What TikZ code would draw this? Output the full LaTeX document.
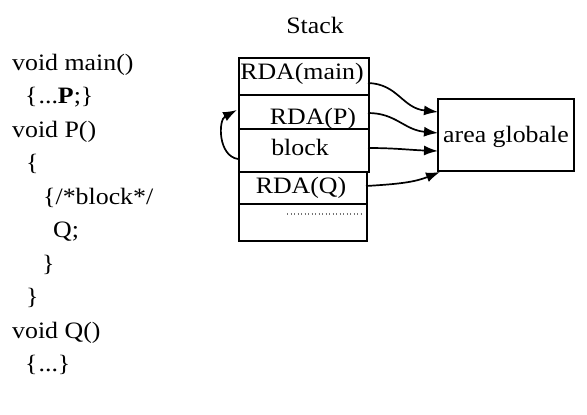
\documentclass[tikz,border=0pt]{standalone}
\usepackage{fontspec}
\setmainfont[FakeStretch=1.1]{Liberation Serif}
\usetikzlibrary{arrows.meta}
\begin{document}
\begin{tikzpicture}[x=1pt,y=-1pt,
  every node/.style={inner sep=0pt, font=\fontsize{23.5}{28}\selectfont},
  code/.style={anchor=base west},
  lbl/.style={anchor=base},
  cell/.style={draw, line width=1.7pt, rectangle, anchor=north west},
  arr/.style={-{Latex[length=14pt,width=10pt]}, line width=1.7pt}]
\useasboundingbox (0,0) rectangle (587,415);

% code listing
\node[code] (l1) at (12,70) {void main()};
\node[code] (l2) at (25,103.5) {\{\kern1pt...\textbf{P};\}};
\node[code] (l3) at (12,137) {void P()};
\node[code] (l4) at (26,170.5) {\{};
\node[code] (l5) at (43,204) {\{/*block*/};
\node[code] (l6) at (53,237.5) {Q;};
\node[code] (l7) at (42,271) {\}};
\node[code] (l8) at (26,304.5) {\}};
\node[code] (l9) at (12,338) {void Q()};
\node[code] (l10) at (25,371.5) {\{\kern1pt...\}};

% stack
\node[lbl] (stack) at (315,33) {Stack};
\node[cell, minimum width=130pt, minimum height=37pt] (cmain) at (238,57) {};
\node[cell, minimum width=130pt, minimum height=77pt] (cp) at (238,94) {};
\draw[line width=1.7pt] (238,129) -- (368,129);
\node[cell, minimum width=128pt, minimum height=69pt] (cq) at (238,171) {};
\draw[line width=1.7pt] (238,204) -- (366,204);
\draw[black!55, line width=1.3pt, dash pattern=on 1.3pt off 2.2pt] (287,214) -- (362,214);

\node[lbl] (tmain) at (302,79) {RDA(main)};
\node[lbl] (tp) at (313,124) {RDA(P)};
\node[lbl] (tblock) at (300,155) {block};
\node[lbl] (tq) at (301,193) {RDA(Q)};

% area globale
\node[draw, line width=1.7pt, minimum width=136pt, minimum height=72pt] (ag) at (506,135) {};
\node[lbl] (tag) at (506,142) {area globale};

% connectors
\coordinate (s1) at (368,83);
\coordinate (s2) at (368,113);
\coordinate (s3) at (368,148);
\coordinate (s4) at (366,186);
\coordinate (e1) at (438,112);
\coordinate (e2) at (438,133);
\coordinate (e3) at (438,151);
\coordinate (e4) at (440,172);
\draw[arr] (s1) .. controls (398,84) and (402,108) .. (e1);
\draw[arr] (s2) .. controls (396,113) and (404,130) .. (e2);
\draw[arr] (s3) .. controls (395,148) and (410,150) .. (e3);
\draw[arr] (s4) .. controls (400,184) and (415,182) .. (e4);

\coordinate (b1) at (238,159);
\coordinate (b2) at (237,110);
\draw[arr] (b1) .. controls (218,156) and (218,120) .. (b2);
\end{tikzpicture}
\end{document}
